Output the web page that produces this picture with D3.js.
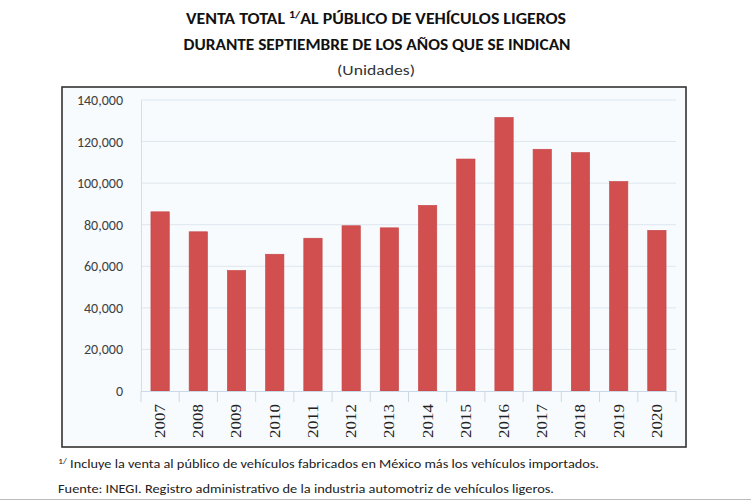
<!DOCTYPE html>
<html><head><meta charset="utf-8">
<script src="https://cdn.jsdelivr.net/npm/d3@7"></script>
<style>body{margin:0;background:#fff}svg{display:block}</style>
</head><body>
<script>
const years = ["2007","2008","2009","2010","2011","2012","2013","2014","2015","2016","2017","2018","2019","2020"];
const ventas = [86200, 76600, 58000, 65800, 73500, 79500, 78500, 89300, 111600, 131600, 116300, 114700, 100800, 77300];
const yTicks = [0, 20000, 40000, 60000, 80000, 100000, 120000, 140000];

const W = 751, H = 500;
const svg = d3.select("body").append("svg").attr("width", W).attr("height", H);
const sans = "Carlito, Lato, 'Liberation Sans', sans-serif";

function fit(sel, target) {
  sel.attr("textLength", target).attr("lengthAdjust", "spacingAndGlyphs");
}

// Title
const t1 = svg.append("text").attr("x", 376).attr("y", 24).attr("text-anchor", "middle")
  .attr("font-family", sans).attr("font-weight", "bold").attr("font-size", 15.5).attr("fill", "#111");
t1.append("tspan").text("VENTA TOTAL ");
t1.append("tspan").attr("font-size", "0.68em").attr("dy", -6).text("1/");
t1.append("tspan").attr("dy", 6).text("AL PÚBLICO DE VEHÍCULOS LIGEROS");
fit(t1, 380);
const t2 = svg.append("text").attr("x", 377).attr("y", 50).attr("text-anchor", "middle")
  .attr("font-family", sans).attr("font-weight", "bold").attr("font-size", 15.5).attr("fill", "#111")
  .text("DURANTE SEPTIEMBRE DE LOS AÑOS QUE SE INDICAN");
fit(t2, 387);
const t3 = svg.append("text").attr("x", 376).attr("y", 75).attr("text-anchor", "middle")
  .attr("font-family", sans).attr("font-size", 14.5).attr("fill", "#333").text("(Unidades)");
fit(t3, 78);

// Frame
svg.append("rect").attr("x", 62).attr("y", 87).attr("width", 624).attr("height", 360)
  .attr("fill", "#f7fbfd").attr("stroke", "#333").attr("stroke-width", 1.6);

const plot = {l: 141, r: 676, t: 100, b: 391};
const x = d3.scaleBand().domain(years).range([plot.l, plot.r]).paddingInner(0.52).paddingOuter(0.26);
const y = d3.scaleLinear().domain([0, 140000]).range([plot.b, plot.t]);

// Gridlines
svg.append("g").selectAll("line").data(yTicks.filter(d => d > 0)).join("line")
  .attr("x1", plot.l).attr("x2", plot.r).attr("y1", d => y(d)).attr("y2", d => y(d))
  .attr("stroke", "#dde6ee").attr("stroke-width", 1);

// Y axis
const ya = svg.append("g").attr("transform", `translate(${plot.l},0)`)
  .call(d3.axisLeft(y).tickValues(yTicks).tickSize(0).tickPadding(18).tickFormat(d3.format(",")));
ya.select(".domain").attr("stroke", "#d3dfea");
ya.selectAll("text").attr("font-family", sans).attr("font-size", 14).attr("fill", "#404040");

// Bars
svg.append("g").selectAll("rect").data(years).join("rect")
  .attr("x", d => x(d)).attr("width", x.bandwidth())
  .attr("y", (d, i) => y(ventas[i])).attr("height", (d, i) => plot.b - y(ventas[i]))
  .attr("fill", "#d24f4f").attr("stroke", "#c44545").attr("stroke-width", 0.6);

// X axis
const xa = svg.append("g").attr("transform", `translate(0,${plot.b})`)
  .call(d3.axisBottom(x).tickSize(0).tickPadding(0));
xa.select(".domain").attr("stroke", "#cbd9e6");
const step = x.step();
xa.selectAll(".bnd").data(d3.range(years.length + 1)).join("line").attr("class", "bnd")
  .attr("x1", i => plot.l + i * step).attr("x2", i => plot.l + i * step)
  .attr("y1", 0).attr("y2", 11).attr("stroke", "#cbd9e6");
xa.selectAll(".tick text")
  .attr("font-family", "'Liberation Serif', 'DejaVu Serif', serif").attr("font-size", 14).attr("fill", "#222")
  .attr("transform", "rotate(-90)").attr("text-anchor", "end")
  .attr("x", -13).attr("y", 0).attr("dy", "0.35em")
  .attr("textLength", 34).attr("lengthAdjust", "spacingAndGlyphs");

// Footnotes
const f1 = svg.append("text").attr("x", 58).attr("y", 468).attr("font-family", sans).attr("font-size", 13).attr("fill", "#222");
f1.append("tspan").attr("font-size", 9).attr("dy", -4).text("1/");
f1.append("tspan").attr("dy", 4).text(" Incluye la venta al público de vehículos fabricados en México más los vehículos importados.");
fit(f1, 541);
const f2 = svg.append("text").attr("x", 58).attr("y", 493).attr("font-family", sans).attr("font-size", 13).attr("fill", "#222")
  .text("Fuente: INEGI. Registro administrativo de la industria automotriz de vehículos ligeros.");
fit(f2, 496);

svg.append("line").attr("x1", 0).attr("x2", W).attr("y1", 499.5).attr("y2", 499.5).attr("stroke", "#bbb");
</script>
</body></html>
